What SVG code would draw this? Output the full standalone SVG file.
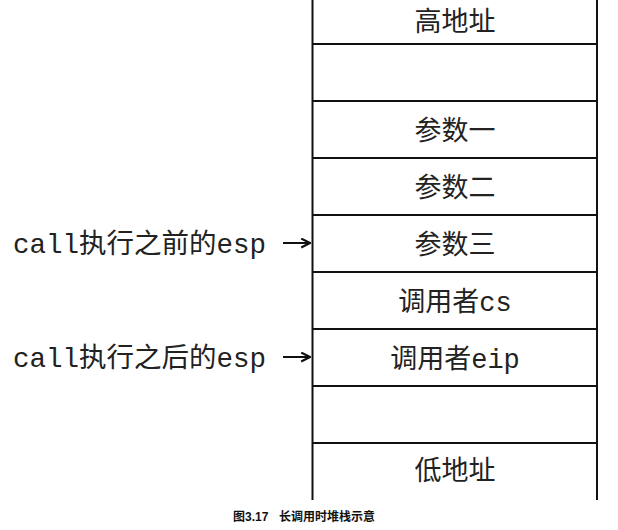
<svg xmlns="http://www.w3.org/2000/svg" width="618" height="530" viewBox="0 0 618 530">
<style>
.frame{stroke:#111;stroke-width:2;fill:none}
.cell{font-family:"Liberation Mono","Noto Sans CJK SC",monospace;font-size:27px;fill:#222;text-anchor:middle}
.lbl{font-family:"Liberation Mono","Noto Sans CJK SC",monospace;font-size:27.5px;fill:#222}
.cap{font-family:"Liberation Sans","Noto Sans CJK SC",sans-serif;font-size:12px;font-weight:bold;fill:#111}
.arr{stroke:#111;stroke-width:2;fill:none}
</style>
<defs>
<marker id="ah" viewBox="0 0 10 10" refX="9" refY="5" markerWidth="11" markerHeight="11" markerUnits="userSpaceOnUse" orient="auto">
<path d="M1,1 L9,5 L1,9" fill="none" stroke="#111" stroke-width="2"/>
</marker>
</defs>
<rect width="618" height="530" fill="#fff"/>
<g id="stack">
<line class="frame" x1="312.5" y1="0" x2="312.5" y2="500"/>
<line class="frame" x1="597" y1="0" x2="597" y2="500"/>
<line class="frame" x1="312" y1="44" x2="597" y2="44"/>
<line class="frame" x1="312" y1="101" x2="597" y2="101"/>
<line class="frame" x1="312" y1="158" x2="597" y2="158"/>
<line class="frame" x1="312" y1="215" x2="597" y2="215"/>
<line class="frame" x1="312" y1="272" x2="597" y2="272"/>
<line class="frame" x1="312" y1="329" x2="597" y2="329"/>
<line class="frame" x1="312" y1="386" x2="597" y2="386"/>
<line class="frame" x1="312" y1="443" x2="597" y2="443"/>
</g>
<g id="n-high"><text class="cell" x="455" y="31">高地址</text></g>
<g id="n-empty1"></g>
<g id="n-p1"><text class="cell" x="455" y="140">参数一</text></g>
<g id="n-p2"><text class="cell" x="455" y="197">参数二</text></g>
<g id="n-p3"><text class="cell" x="455" y="254">参数三</text></g>
<g id="n-cs"><text class="cell" x="455" y="311">调用者cs</text></g>
<g id="n-eip"><text class="cell" x="455" y="368">调用者eip</text></g>
<g id="n-empty2"></g>
<g id="n-low"><text class="cell" x="455" y="480">低地址</text></g>
<g id="lbl-before"><text class="lbl" x="13" y="253">call执行之前的esp</text></g>
<g id="lbl-after"><text class="lbl" x="13" y="367">call执行之后的esp</text></g>
<g id="connectors">
<line class="arr" x1="283" y1="243" x2="310" y2="243" marker-end="url(#ah)"/>
<line class="arr" x1="283" y1="357" x2="310" y2="357" marker-end="url(#ah)"/>
</g>
<text class="cap" y="521"><tspan x="233">图3.17</tspan><tspan x="279">长调用时堆栈示意</tspan></text>
</svg>
